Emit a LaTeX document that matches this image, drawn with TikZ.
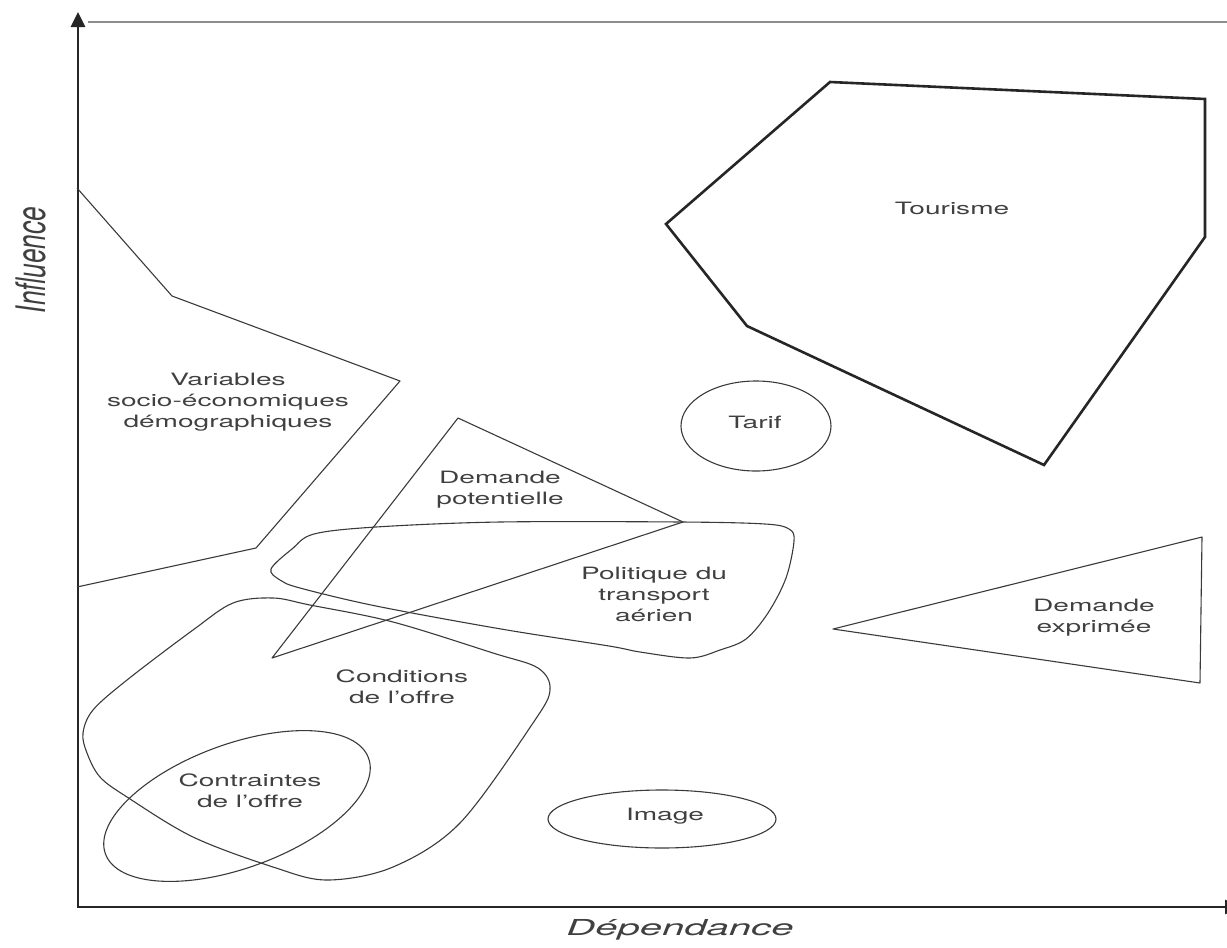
\documentclass[tikz,border=0pt]{standalone}
\usepackage{fontspec}
\setmainfont{TeX Gyre Heros}
\usetikzlibrary{arrows.meta}
\definecolor{ink}{HTML}{3A3A3A}
\definecolor{txt}{HTML}{404040}
\tikzset{
  region/.style={draw=ink, line width=1.1pt, line join=round},
  thickregion/.style={draw=black!85, line width=2.6pt, line join=miter},
  lbl/.style={text=txt, font=\fontsize{17}{21}\selectfont, align=center, xscale=1.65, inner sep=0pt},
  axislbl/.style={text=txt, font=\fontsize{22}{26}\selectfont\itshape, inner sep=0pt},
  axisline/.style={draw=black!85, line width=2.8pt, line join=miter,
    {Triangle[length=15pt,width=14pt]}-{Triangle[length=15pt,width=14pt]}},
  topline/.style={draw=black!45, line width=1.6pt}
}
\begin{document}
\begin{tikzpicture}[x=1pt,y=-1pt]
\useasboundingbox (0,0) rectangle (1227,948);
\clip (0,0) rectangle (1227,948);

% axes
\coordinate (xend) at (1240,907);
\coordinate (origin) at (78,907);
\coordinate (yend) at (78,12);
\draw[axisline] (xend) -- (origin) -- (yend);
\coordinate (tl) at (88,22);
\coordinate (tr) at (1227,22);
\draw[topline] (tl) -- (tr);

\node[axislbl, rotate=90, xscale=1.19, yscale=1.85] (infl) at (31,260) {Influence};
\node[axislbl, anchor=base, xscale=1.82] (dep) at (680,935) {Dépendance};

% Variables socio-economiques (open polygon on axis)
\draw[region] (77,188) -- (172,296) -- (400,381) -- (256,548) -- (77,587);
\node[lbl] (var) at (228,402) {Variables\\socio-économiques\\démographiques};

% Tourisme
\draw[thickregion] (830,82) -- (1205,99) -- (1205,237) -- (1044,465) -- (747,326) -- (666,224) -- cycle;
\node[lbl] (tour) at (952,208) {Tourisme};

% Tarif
\draw[region] (756,426) ellipse [x radius=75, y radius=45];
\node[lbl] (tarif) at (755,422) {Tarif};

% Demande potentielle triangle
\draw[region] (458,418) -- (683,522) -- (272,658) -- cycle;
\node[lbl] (dpot) at (500,490) {Demande\\potentielle};

% Politique du transport aerien blob
\draw[region] plot[smooth cycle, tension=0.55] coordinates {
  (271,569) (292,549) (314,534) (376,527) (500,522) (681,522) (765,524)
  (789,529) (794,541) (786,578) (768,613) (746,639) (720,650) (690,658)
  (640,652) (609,646) (501,629) (376,606) (300,588) (280,580)};
\node[lbl] (pol) at (654,594) {Politique du\\transport\\aérien};

% Demande exprimee
\draw[region] (833,629) -- (1202,537) -- (1200,683) -- cycle;
\node[lbl] (dexp) at (1094,618) {Demande\\exprimée};

% Conditions de l'offre blob
\draw[region] plot[smooth cycle, tension=0.55] coordinates {
  (273,598) (310,605) (393,622) (493,653) (538,668) (550,690) (533,723)
  (460,823) (393,867) (327,880) (273,867) (193,837) (127,797) (100,777)
  (87,753) (83,733) (93,710) (127,680) (193,630) (233,603)};
\node[lbl] (cond) at (402,687) {Conditions\\de l'offre};

% Contraintes de l'offre
\draw[region, rotate around={20:(237,806)}] (237,806) ellipse [x radius=140, y radius=62];
\node[lbl] (contr) at (250,791) {Contraintes\\de l'offre};

% Image
\draw[region] (662,819) ellipse [x radius=114, y radius=29];
\node[lbl] (img) at (665,816) {Image};

\end{tikzpicture}
\end{document}
